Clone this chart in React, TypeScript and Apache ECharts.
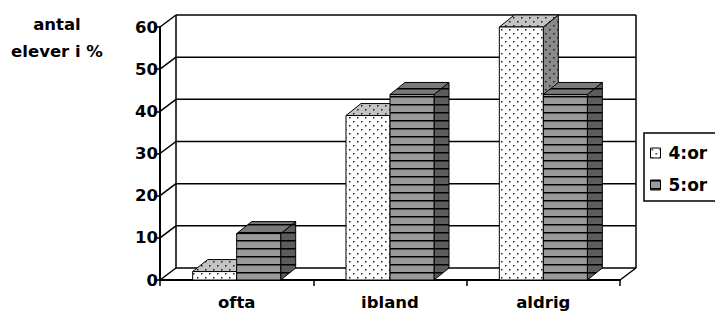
import React, { useEffect, useRef } from 'react';
import * as echarts from 'echarts';

const categories = ['ofta', 'ibland', 'aldrig'];
const values4 = [2, 39, 60];
const values5 = [11, 44, 44];
const seriesNames = ['4:or', '5:or'];
const yTicks = [0, 10, 20, 30, 40, 50, 60];
const axisTitle = 'antal\nelever i %';

const FONT = '"DejaVu Sans", Arial, sans-serif';
const FS = 16.5;
const WALL_DX = 16;
const WALL_DY = -12;
const BAR_DX = 15;
const BAR_DY = -12;
const BAR_FRAC = 0.287;

function makeDots(bg: string) {
  const c = document.createElement('canvas');
  c.width = 8;
  c.height = 8;
  const ctx = c.getContext('2d')!;
  ctx.fillStyle = bg;
  ctx.fillRect(0, 0, 8, 8);
  ctx.fillStyle = '#222';
  ctx.fillRect(1, 1, 1, 1);
  ctx.fillRect(5, 5, 1, 1);
  ctx.fillStyle = 'rgba(0,0,0,0.45)';
  ctx.fillRect(2, 1, 1, 1);
  ctx.fillRect(1, 2, 1, 1);
  ctx.fillRect(6, 5, 1, 1);
  ctx.fillRect(5, 6, 1, 1);
  ctx.fillStyle = 'rgba(0,0,0,0.2)';
  ctx.fillRect(2, 2, 1, 1);
  ctx.fillRect(6, 6, 1, 1);
  return { image: c, repeat: 'repeat' } as any;
}

function makeStripes(bg: string) {
  const c = document.createElement('canvas');
  c.width = 8;
  c.height = 8;
  const ctx = c.getContext('2d')!;
  ctx.fillStyle = bg;
  ctx.fillRect(0, 0, 8, 8);
  ctx.fillStyle = '#000';
  ctx.fillRect(0, 0, 8, 1);
  ctx.fillStyle = 'rgba(0,0,0,0.5)';
  ctx.fillRect(0, 1, 8, 1);
  return { image: c, repeat: 'repeat' } as any;
}

export default function App() {
  const ref = useRef<HTMLDivElement>(null);

  useEffect(() => {
    if (!ref.current) return;
    const chart = echarts.init(ref.current, undefined, { renderer: 'svg' });

    const fills = [
      { front: makeDots('#ffffff'), top: makeDots('#c4c4c4'), side: makeDots('#8a8a8a') },
      { front: makeStripes('#9a9a9a'), top: makeStripes('#7a7a7a'), side: makeStripes('#5c5c5c') },
    ];

    const barRender = (sIdx: number) => (params: any, api: any) => {
      const idx = api.value(0);
      const v = api.value(1);
      const top = api.coord([idx, v]);
      const base = api.coord([idx, 0]);
      const bw = api.size([1, 0])[0] * BAR_FRAC;
      const xl = sIdx === 0 ? top[0] - bw : top[0];
      const xr = xl + bw;
      const yt = top[1];
      const yb = base[1];
      const f = fills[sIdx];
      const stroke = { stroke: '#000', lineWidth: 1 };
      return {
        type: 'group',
        children: [
          {
            type: 'polygon',
            shape: { points: [[xr, yt], [xr + BAR_DX, yt + BAR_DY], [xr + BAR_DX, yb + BAR_DY], [xr, yb]] },
            style: { fill: f.side, ...stroke },
          },
          {
            type: 'polygon',
            shape: { points: [[xl, yt], [xl + BAR_DX, yt + BAR_DY], [xr + BAR_DX, yt + BAR_DY], [xr, yt]] },
            style: { fill: f.top, ...stroke },
          },
          {
            type: 'rect',
            shape: { x: xl, y: yt, width: bw, height: yb - yt },
            style: { fill: f.front, ...stroke },
          },
        ],
      };
    };

    const wallRender = (params: any, api: any) => {
      const cs = params.coordSys;
      const x0 = cs.x;
      const x1 = cs.x + cs.width;
      const ls = { stroke: '#000', lineWidth: 1.5 };
      const children: any[] = [];
      yTicks.forEach((t) => {
        const y = api.coord([0, t])[1];
        children.push({ type: 'line', shape: { x1: x0 + WALL_DX, y1: y + WALL_DY, x2: x1 + WALL_DX, y2: y + WALL_DY }, style: ls });
        children.push({ type: 'line', shape: { x1: x0, y1: y, x2: x0 + WALL_DX, y2: y + WALL_DY }, style: ls });
      });
      const yTop = api.coord([0, yTicks[yTicks.length - 1]])[1];
      const yBot = api.coord([0, yTicks[0]])[1];
      children.push({ type: 'line', shape: { x1: x0 + WALL_DX, y1: yTop + WALL_DY, x2: x0 + WALL_DX, y2: yBot + WALL_DY }, style: ls });
      children.push({ type: 'line', shape: { x1: x1 + WALL_DX, y1: yTop + WALL_DY, x2: x1 + WALL_DX, y2: yBot + WALL_DY }, style: ls });
      children.push({ type: 'line', shape: { x1: x1, y1: yBot, x2: x1 + WALL_DX, y2: yBot + WALL_DY }, style: ls });
      return { type: 'group', children };
    };

    const option: any = {
      animation: false,
      backgroundColor: '#ffffff',
      grid: { left: 160, right: 95, top: 27, bottom: 32, containLabel: false, outerBoundsMode: 'none' },
      xAxis: {
        type: 'category',
        data: categories,
        axisLine: { show: true, lineStyle: { color: '#000', width: 2 } },
        axisTick: { show: true, length: 6, interval: 0, lineStyle: { color: '#000', width: 1.5 } },
        axisLabel: { color: '#000', fontSize: FS, fontWeight: 'bold', fontFamily: FONT, margin: 14, interval: 0 },
        splitLine: { show: false },
      },
      yAxis: {
        type: 'value',
        min: 0,
        max: 60,
        interval: 10,
        axisLine: { show: true, lineStyle: { color: '#000', width: 2 } },
        axisTick: { show: true, length: 6, lineStyle: { color: '#000', width: 1.5 } },
        axisLabel: { color: '#000', fontSize: FS, fontWeight: 'bold', fontFamily: FONT, margin: 2 },
        splitLine: { show: false },
      },
      legend: {
        orient: 'vertical',
        left: 644,
        top: 133,
        padding: [10, 12, 6, 6],
        itemGap: 12,
        itemWidth: 10,
        itemHeight: 10,
        borderColor: '#000',
        borderWidth: 1.5,
        borderRadius: 0,
        icon: 'rect',
        textStyle: { color: '#000', fontSize: 17, fontWeight: 'bold', fontFamily: FONT, padding: [0, 0, 0, 3], lineHeight: 20 },
        data: [
          { name: seriesNames[0], itemStyle: { color: fills[0].front, borderColor: '#000', borderWidth: 1 } },
          { name: seriesNames[1], itemStyle: { color: fills[1].front, borderColor: '#000', borderWidth: 1 } },
        ],
      },
      graphic: [
        {
          type: 'text',
          x: 57,
          y: 38,
          style: {
            text: axisTitle,
            fill: '#000',
            font: `bold ${FS}px ${FONT}`,
            align: 'center',
            verticalAlign: 'middle',
            lineHeight: 27,
          },
        },
      ],
      series: [
        {
          type: 'custom',
          name: 'walls',
          silent: true,
          data: [[0, 0]],
          renderItem: wallRender,
          z: 1,
        },
        {
          type: 'custom',
          name: seriesNames[0],
          data: values4.map((v, i) => [i, v]),
          renderItem: barRender(0),
          itemStyle: { color: fills[0].front, borderColor: '#000', borderWidth: 1 },
          z: 2,
        },
        {
          type: 'custom',
          name: seriesNames[1],
          data: values5.map((v, i) => [i, v]),
          renderItem: barRender(1),
          itemStyle: { color: fills[1].front, borderColor: '#000', borderWidth: 1 },
          z: 3,
        },
      ],
    };

    chart.setOption(option);
    return () => chart.dispose();
  }, []);

  return (
    <div
      ref={ref}
      style={{ position: 'fixed', left: 0, top: 0, width: 715, height: 312, background: '#fff' }}
    />
  );
}
